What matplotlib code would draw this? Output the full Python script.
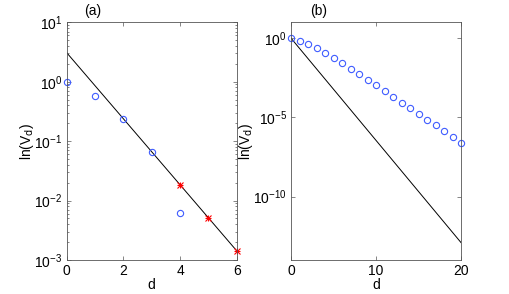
import matplotlib
matplotlib.use('Agg')
import matplotlib.pyplot as plt
from matplotlib.ticker import LogLocator, NullLocator, FixedLocator

plt.rcParams['font.family'] = ['Liberation Sans', 'DejaVu Sans']
plt.rcParams['font.size'] = 10

# panel (a): measured points, predicted points, fitted line
d_a = [0, 1, 2, 3, 4]
v_a = [1.0, 0.58, 0.235, 0.066, 0.0061]
d_star = [4, 5, 6]
v_star = [0.0182, 0.0051, 0.00143]
line_a_d = [0, 6]
line_a_v = [3.08, 0.00143]

# panel (b)
d_b = list(range(21))
logv_b = [0.0, -0.16, -0.37, -0.64, -0.92, -1.27, -1.58, -1.92, -2.26, -2.61, -2.97,
          -3.33, -3.69, -4.07, -4.42, -4.76, -5.16, -5.49, -5.87, -6.24, -6.61]
v_b = [10 ** x for x in logv_b]
line_b_d = [0, 20]
line_b_v = [1.0, 1.2e-13]

blue = '#3f5cff'
spine_col = '#555555'

fig = plt.figure(figsize=(5.1, 2.94), dpi=100)
ax1 = fig.add_axes([0.1308, 0.1156, 0.3333, 0.8085])
ax2 = fig.add_axes([0.5706, 0.1156, 0.3339, 0.8085])

def style(ax):
    for s in ax.spines.values():
        s.set_color(spine_col)
        s.set_linewidth(0.6)
    ax.tick_params(which='both', direction='in', top=True, right=True,
                   color=spine_col, width=0.5, labelsize=10, pad=3)
    ax.tick_params(which='major', length=3)
    ax.tick_params(which='minor', length=1.5)

ylab = r'ln(V$_\mathrm{d}$)'

# (a)
ax1.plot(line_a_d, line_a_v, color='black', lw=0.7)
ax1.plot(d_a, v_a, 'o', mfc='none', mec=blue, ms=4.5, mew=0.8, clip_on=False)
ax1.plot(d_star, v_star, '+', color='red', ms=5, mew=0.8, clip_on=False)
ax1.plot(d_star, v_star, 'x', color='red', ms=4, mew=0.8, clip_on=False)
ax1.set_yscale('log')
ax1.set_xlim(0, 6)
ax1.set_ylim(1e-3, 1e1)
ax1.set_xticks([0, 2, 4, 6])
ax1.yaxis.set_major_locator(FixedLocator([1e-3, 1e-2, 1e-1, 1e0, 1e1]))
ax1.yaxis.set_minor_locator(LogLocator(base=10, subs=range(2, 10)))
ax1.set_xlabel('d', labelpad=0)
ax1.set_ylabel(ylab, labelpad=-1)
ax1.text(0.155, 1.02, '(a)', transform=ax1.transAxes, ha='center', va='bottom')
style(ax1)

# (b)
ax2.plot(line_b_d, line_b_v, color='black', lw=0.7)
ax2.plot(d_b, v_b, 'o', mfc='none', mec=blue, ms=4.5, mew=0.8, clip_on=False)
ax2.set_yscale('log')
ax2.set_xlim(0, 20)
ax2.set_ylim(1e-14, 1e1)
ax2.set_xticks([0, 10, 20])
ax2.yaxis.set_major_locator(FixedLocator([1e-10, 1e-5, 1e0]))
ax2.yaxis.set_minor_locator(NullLocator())
ax2.set_xlabel('d', labelpad=0)
ax2.set_ylabel(ylab, labelpad=-1)
ax2.text(0.165, 1.02, '(b)', transform=ax2.transAxes, ha='center', va='bottom')
style(ax2)

fig.savefig('out.png', dpi=100)
